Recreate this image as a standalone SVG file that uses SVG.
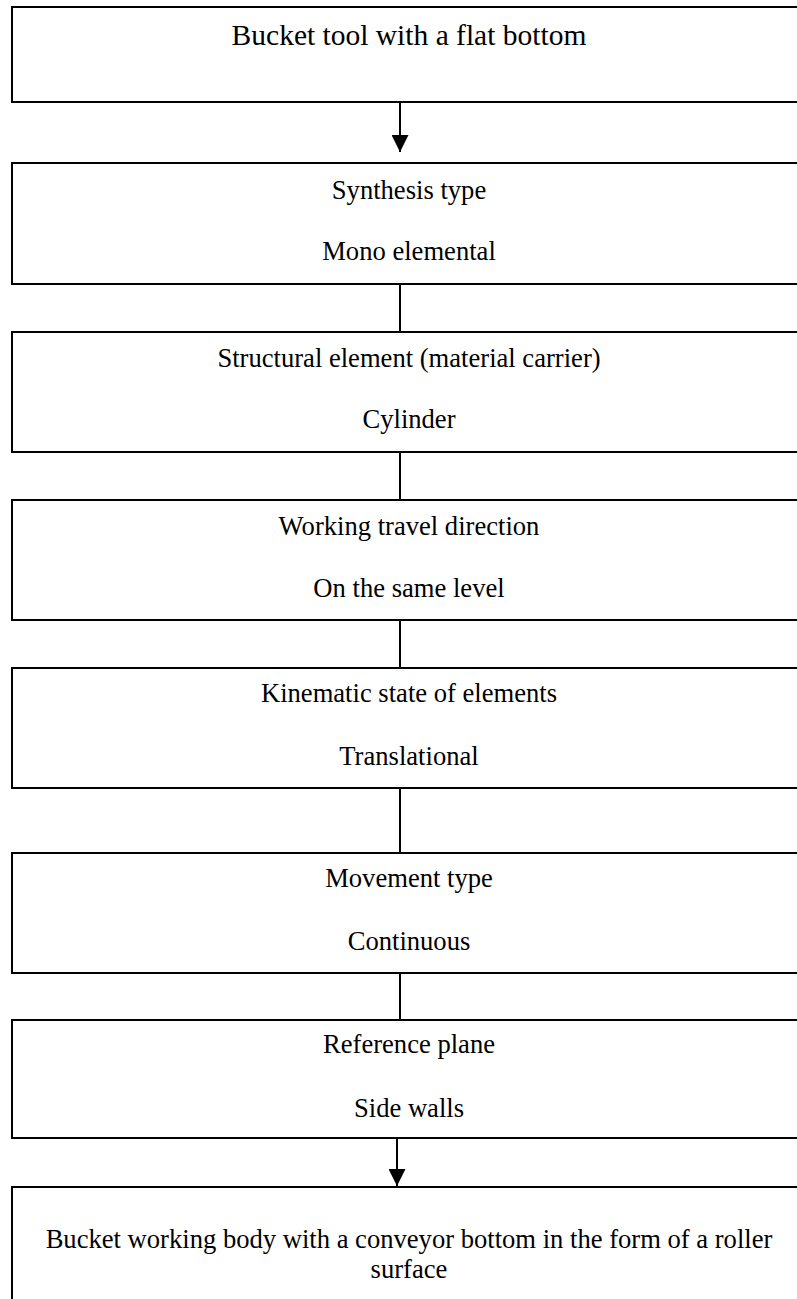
<svg xmlns="http://www.w3.org/2000/svg" width="797" height="1299" viewBox="0 0 797 1299">
<style>
.box{fill:#fff;stroke:#000;stroke-width:2}
.t{font-family:"Liberation Serif","Times New Roman",serif;font-size:26.6px;fill:#000;text-anchor:middle}
.t1{font-size:29.5px}
.c{stroke:#000;stroke-width:2;fill:none}
</style>
<defs>
<marker id="ah" viewBox="0 0 10 10" refX="10" refY="5" markerWidth="8.5" markerHeight="8.5" markerUnits="strokeWidth" orient="auto">
<path d="M0,0 L10,5 L0,10 Z" fill="#000"/>
</marker>
</defs>
<rect width="797" height="1299" fill="#fff"/>
<g id="n1"><rect class="box" x="12" y="7" width="796" height="95"/><text class="t t1" x="409" y="45">Bucket tool with a flat bottom</text></g>
<g id="n2"><rect class="box" x="12" y="163" width="796" height="121"/><text class="t" x="409" y="199">Synthesis type</text><text class="t" x="409" y="260">Mono elemental</text></g>
<g id="n3"><rect class="box" x="12" y="332" width="796" height="120"/><text class="t" x="409" y="367">Structural element (material carrier)</text><text class="t" x="409" y="428">Cylinder</text></g>
<g id="n4"><rect class="box" x="12" y="500" width="796" height="120"/><text class="t" x="409" y="535">Working travel direction</text><text class="t" x="409" y="597">On the same level</text></g>
<g id="n5"><rect class="box" x="12" y="668" width="796" height="120"/><text class="t" x="409" y="702">Kinematic state of elements</text><text class="t" x="409" y="765">Translational</text></g>
<g id="n6"><rect class="box" x="12" y="853" width="796" height="120"/><text class="t" x="409" y="887">Movement type</text><text class="t" x="409" y="950">Continuous</text></g>
<g id="n7"><rect class="box" x="12" y="1020" width="796" height="118"/><text class="t" x="409" y="1053">Reference plane</text><text class="t" x="409" y="1117">Side walls</text></g>
<g id="n8"><rect class="box" x="12" y="1187" width="796" height="130"/><text class="t" x="409" y="1248">Bucket working body with a conveyor bottom in the form of a roller</text><text class="t" x="409" y="1278">surface</text></g>
<g id="connectors">
<line class="c" x1="400" y1="102" x2="400" y2="152" marker-end="url(#ah)"/>
<line class="c" x1="400" y1="284" x2="400" y2="332"/>
<line class="c" x1="400" y1="452" x2="400" y2="500"/>
<line class="c" x1="400" y1="620" x2="400" y2="668"/>
<line class="c" x1="400" y1="788" x2="400" y2="853"/>
<line class="c" x1="400" y1="973" x2="400" y2="1020"/>
<line class="c" x1="397" y1="1138" x2="397" y2="1186" marker-end="url(#ah)"/>
</g>
</svg>
